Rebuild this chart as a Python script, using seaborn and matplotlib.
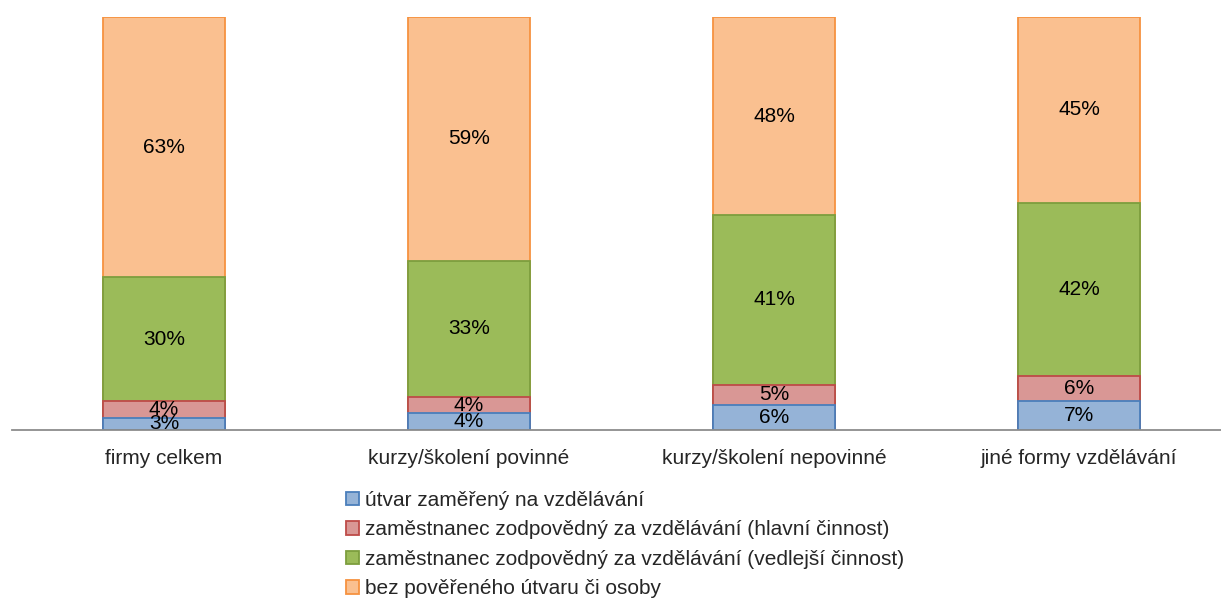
import numpy as np
import pandas as pd
import matplotlib
matplotlib.use('Agg')
import matplotlib.pyplot as plt
import seaborn as sns
from matplotlib.patches import Patch

# Data (% of firms)
categories = ['firmy celkem', 'kurzy/školení povinné', 'kurzy/školení nepovinné', 'jiné formy vzdělávání']
series_names = ['útvar zaměřený na vzdělávání',
                'zaměstnanec zodpovědný za vzdělávání (hlavní činnost)',
                'zaměstnanec zodpovědný za vzdělávání (vedlejší činnost)',
                'bez pověřeného útvaru či osoby']
utvar = [3, 4, 6, 7]
hlavni = [4, 4, 5, 6]
vedlejsi = [30, 33, 41, 42]
bez = [63, 59, 48, 45]

fills = ['#95B3D7', '#D99795', '#9BBB59', '#FAC090']
edges = ['#4A7EBB', '#BE4B48', '#7D9E3E', '#F69240']

sns.set_style('white')
plt.rcParams['font.family'] = ['Liberation Sans', 'DejaVu Sans']

values = np.array([utvar, hlavni, vedlejsi, bez], dtype=float)
cum = values.cumsum(axis=0)

fig = plt.figure(figsize=(12.21, 6.01), dpi=100)
# plot area runs slightly past the right edge, like the original
ax = fig.add_axes([11.5 / 1221, 171 / 601, 1220 / 1221, 413 / 601])

# stacked bars: draw cumulative totals from the top layer down
for i in range(len(series_names) - 1, -1, -1):
    df = pd.DataFrame({'kategorie': categories, 'hodnota': cum[i]})
    sns.barplot(data=df, x='kategorie', y='hodnota', order=categories,
                color=fills[i], edgecolor=edges[i], linewidth=1.3,
                width=0.4, saturation=1, ax=ax)

# percentage labels in the middle of each segment
for i in range(len(series_names)):
    for j in range(len(categories)):
        mid = cum[i, j] - values[i, j] / 2
        ax.text(j, mid, f'{int(values[i, j])}%', ha='center', va='center',
                fontsize=15, color='#000000')

ax.set_xlim(-0.5, 3.5)
ax.set_ylim(0, 100)
ax.set_xlabel('')
ax.set_ylabel('')
ax.set_yticks([])
ax.set_xticks(range(len(categories)))
ax.set_xticklabels(categories, fontsize=15)
ax.set_xticks(np.arange(-0.5, 4, 1), minor=True)
ax.tick_params(axis='x', which='major', length=0, pad=14)
ax.tick_params(axis='x', which='minor', length=6, width=1.3, color='#8C8C8C', direction='out')
for s in ['top', 'left', 'right']:
    ax.spines[s].set_visible(False)
ax.spines['bottom'].set_color('#8C8C8C')
ax.spines['bottom'].set_linewidth(1.3)

handles = [Patch(facecolor=fills[i], edgecolor=edges[i], linewidth=1.3) for i in range(4)]
fig.legend(handles, series_names, loc='upper left', bbox_to_anchor=(346 / 1221, 1 - 491 / 601),
           frameon=False, fontsize=15, handlelength=0.6, handleheight=0.6,
           handletextpad=0.3, labelspacing=0.5, borderpad=0, borderaxespad=0)

fig.savefig('out.png', dpi=100)
